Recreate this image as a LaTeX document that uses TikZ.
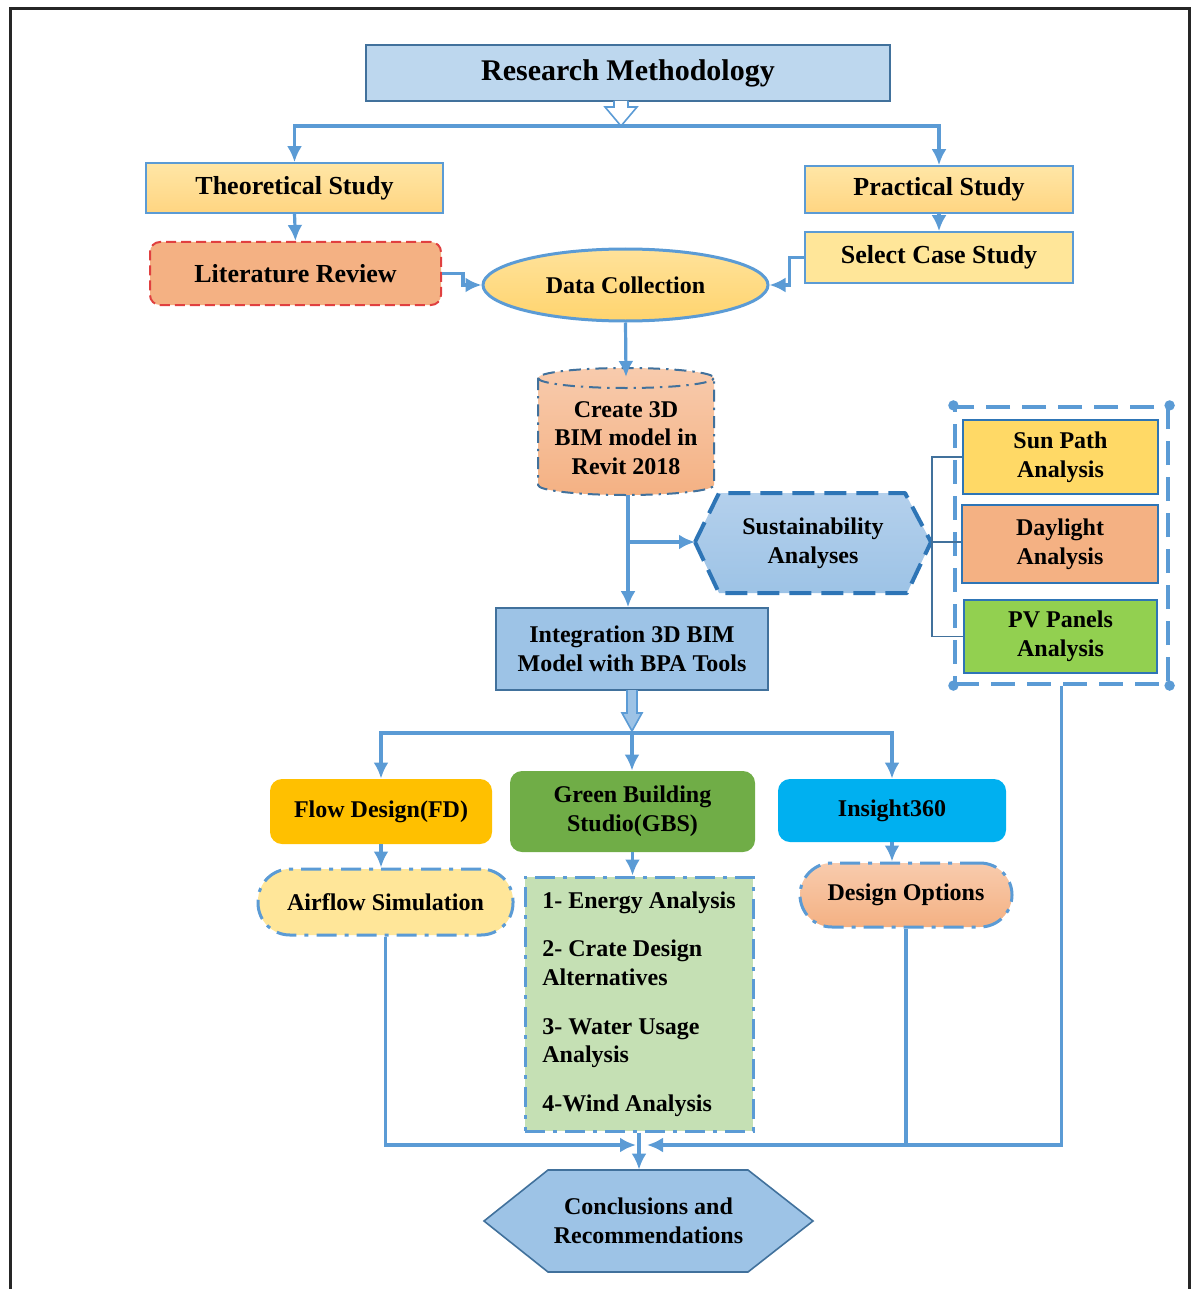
\documentclass[tikz,border=0pt]{standalone}
\usepackage{fontspec}
\setmainfont{Liberation Serif}
\usetikzlibrary{arrows.meta,shapes.geometric,calc}
\definecolor{ln}{HTML}{5B9BD5}
\definecolor{dk}{HTML}{41719C}
\definecolor{dkb}{HTML}{2E75B6}
\definecolor{rmfill}{HTML}{BDD7EE}
\definecolor{ylt}{HTML}{FFE6A6}
\definecolor{ylb}{HTML}{FFD581}
\definecolor{salmon}{HTML}{F4B183}
\definecolor{salmonl}{HTML}{F8CBAD}
\definecolor{pale}{HTML}{FFE699}
\definecolor{dct}{HTML}{FFE29A}
\definecolor{dcb}{HTML}{FFD46E}
\definecolor{bluel}{HTML}{B4D0EC}
\definecolor{bluem}{HTML}{9DC3E6}
\definecolor{sunc}{HTML}{FFD966}
\definecolor{pvc}{HTML}{92D050}
\definecolor{fdc}{HTML}{FFC000}
\definecolor{gbsc}{HTML}{70AD47}
\definecolor{insc}{HTML}{00B0F0}
\definecolor{listc}{HTML}{C5E0B4}
\definecolor{litred}{HTML}{E04040}
\definecolor{frame}{HTML}{262626}
\begin{document}
\begin{tikzpicture}[x=0.5pt,y=-0.5pt,
  base/.style={font=\fontsize{12}{14.3}\selectfont\bfseries, align=center, inner sep=0pt},
  bigfont/.style={font=\fontsize{13}{15}\selectfont\bfseries},
  box/.style={base, draw=ln, line width=0.8pt},
  conn/.style={draw=ln, line width=1.6pt, -{Latex[length=8pt,width=7.5pt]}},
  plainline/.style={draw=ln, line width=1.6pt},
  thinline/.style={draw=dk, line width=0.8pt},
  dashdotted/.style={dash pattern=on 10pt off 4pt on 2pt off 4pt},
]
\useasboundingbox (0,0) rectangle (1195,1289);
% frame
\draw[frame, line width=1.5pt] (10,1300) -- (10,9) -- (1189,9) -- (1189,1300);

% Research Methodology
\node[box, draw=dk, fill=rmfill, minimum width=262pt, minimum height=28pt,
      font=\fontsize{15}{17}\selectfont\bfseries] (rm) at (628,73) {Research Methodology};
\draw[ln, fill=white, line width=0.8pt] (614,101) -- (614,107) -- (605,107) -- (621,126)
      -- (637,107) -- (628,107) -- (628,101);
\coordinate (rmtip) at (621,126);

% Theoretical / Practical
\node[box, bigfont, top color=ylt, bottom color=ylb, minimum width=148.5pt, minimum height=25pt]
      (theo) at (294.5,188) {Theoretical Study};
\node[box, bigfont, top color=ylt, bottom color=ylb, minimum width=134pt, minimum height=23.5pt]
      (prac) at (939,189.5) {Practical Study};
\draw[conn] (rmtip) -| (theo.north);
\draw[conn] (rmtip) -| (prac.north);

\node[base, bigfont, draw=litred, line width=1pt, dash pattern=on 5pt off 2.5pt, fill=salmon,
      rounded corners=5pt, minimum width=145.5pt, minimum height=31.5pt]
      (lit) at (295.5,273.5) {Literature Review};
\node[box, bigfont, fill=pale, minimum width=134pt, minimum height=25.5pt]
      (sel) at (939,257.5) {Select Case Study};
\draw[conn] (theo.south) -- (lit.north);
\draw[conn] (prac.south) -- (sel.north);

% Data collection
\node[base, ellipse, draw=ln, line width=1.5pt, top color=dct, bottom color=dcb,
      minimum width=142.5pt, minimum height=36pt] (dc) at (625.5,285) {Data Collection};
\draw[conn] (lit.east) -- ++(21,0) |- (dc.west);
\draw[conn] (sel.west) -- ++(-15,0) |- (dc.east);

% Cylinder
\path[top color=salmonl, bottom color=salmon] (538,378) -- (538,485)
   arc[start angle=180, end angle=360, x radius=44pt, y radius=5pt] -- (714,378)
   arc[start angle=0, end angle=180, x radius=44pt, y radius=5pt] -- cycle;
\draw[dk, line width=1pt, dash pattern=on 6pt off 3pt on 1.2pt off 3pt] (538,378) -- (538,485)
   arc[start angle=180, end angle=360, x radius=44pt, y radius=5pt] -- (714,378)
   arc[start angle=0, end angle=180, x radius=44pt, y radius=5pt] -- cycle;
\draw[dk, line width=1pt, dash pattern=on 6pt off 3pt on 1.2pt off 3pt] (538,378)
   arc[start angle=180, end angle=360, x radius=44pt, y radius=5pt];
\node[base, minimum width=88pt] (cyl) at (626,438) {Create 3D\\BIM model in\\Revit 2018};
\coordinate (cyltop) at (626,377);
\coordinate (cylbot) at (628,495);
\draw[conn] (dc.south) -- (cyltop);

% Sustainability hexagon
\coordinate (susL) at (695,542);
\coordinate (susR) at (931,542);
\path[top color=bluel, bottom color=bluem] (susL) -- (719,493) -- (905,493) -- (susR) -- (907,593) -- (719,593) -- cycle;
\draw[dkb, line width=2pt, dash pattern=on 11pt off 5pt, line join=round]
   (susL) -- (719,493) -- (905,493) -- (susR) -- (907,593) -- (719,593) -- cycle;
\node[base] (sus) at (813,543) {Sustainability\\Analyses};

% Group of analyses
\node[draw=ln, line width=1.6pt, dash pattern=on 12pt off 6pt, minimum width=106.5pt,
      minimum height=138.5pt, inner sep=0pt] (grp) at (1061.5,545.5) {};
\foreach \c in {north west,north east,south west,south east}
  \fill[ln] (grp.\c) circle (2.6pt);
\node[box, draw=dkb, fill=sunc, minimum width=97.5pt, minimum height=37pt] (sun) at (1060.5,457) {Sun Path\\Analysis};
\node[box, draw=dkb, fill=salmon, minimum width=98pt, minimum height=39pt] (day) at (1060,544) {Daylight\\Analysis};
\node[box, draw=dkb, fill=pvc, minimum width=96.5pt, minimum height=36.5pt] (pv) at (1060.5,636.5) {PV Panels\\Analysis};
\draw[thinline] (sun.west) -- ++(-30,0) |- (pv.west);
\draw[thinline] (susR) -- (susR -| day.west);

% Integration
\node[box, draw=dk, fill=bluem, minimum width=136pt, minimum height=41pt] (integ) at (632,649)
      {Integration 3D BIM\\Model with BPA Tools};
\draw[conn] (cylbot) -- (cylbot |- integ.north);
\draw[conn] (cylbot |- susL) -- (susL);
\draw[ln, fill=bluem, line width=0.8pt] (627,690) -- (627,713) -- (622,713) -- (632,731)
      -- (642,713) -- (637,713) -- (637,690);
\coordinate (itip) at (632,733);

% Tools
\node[base, fill=fdc, rounded corners=6pt, minimum width=111pt, minimum height=32.5pt] (fd) at (381,811.5) {Flow Design(FD)};
\node[base, fill=gbsc, rounded corners=6pt, minimum width=122.5pt, minimum height=40.5pt] (gbs) at (632.5,811.5) {Green Building\\Studio(GBS)};
\node[base, fill=insc, rounded corners=6pt, minimum width=114pt, minimum height=31.5pt] (ins) at (892,810.5) {Insight360};
\draw[conn] (itip) -| (fd.north);
\draw[conn] (itip) -| (ins.north);
\draw[conn] (itip) -- (itip |- gbs.north);

\node[base, fill=pale, draw=ln, line width=1.5pt, dashdotted, rounded corners=16pt,
      minimum width=127.5pt, minimum height=33pt] (air) at (385.5,902) {Airflow Simulation};
\node[base, fill=listc, draw=ln, line width=1.5pt, dashdotted, minimum width=114pt,
      minimum height=127pt, align=left] (list) at (639,1004)
      {1- Energy Analysis\\[10pt]2- Crate Design\\Alternatives\\[10pt]3- Water Usage\\Analysis\\[10pt]4-Wind Analysis};
\node[base, top color=salmonl, bottom color=salmon, draw=ln, line width=1.5pt, dashdotted,
      rounded corners=16pt, minimum width=106pt, minimum height=32pt] (dop) at (906,895) {Design Options};
\draw[conn] (fd.south) -- (fd.south |- air.north);
\draw[conn] (gbs.south) -- (gbs.south |- list.north);
\draw[conn] (ins.south) -- (ins.south |- dop.north);

% Conclusions
\path[fill=bluem] (484,1221) -- (548,1170) -- (748,1170) -- (813,1221) -- (748,1272) -- (548,1272) -- cycle;
\draw[dk, line width=0.8pt] (484,1221) -- (548,1170) -- (748,1170) -- (813,1221) -- (748,1272) -- (548,1272) -- cycle;
\node[base, minimum height=51pt, minimum width=100pt] (conc) at (648.5,1221) {Conclusions and\\Recommendations};

\coordinate (jl) at (636,1145);
\coordinate (jr) at (647,1145);
\draw[conn] (air.south) |- (jl);
\draw[conn] (grp.south) |- (jr);
\draw[plainline] (dop.south) -- (dop.south |- jr);
\draw[conn] (list.south) -- (list.south |- conc.north);
\end{tikzpicture}
\end{document}
